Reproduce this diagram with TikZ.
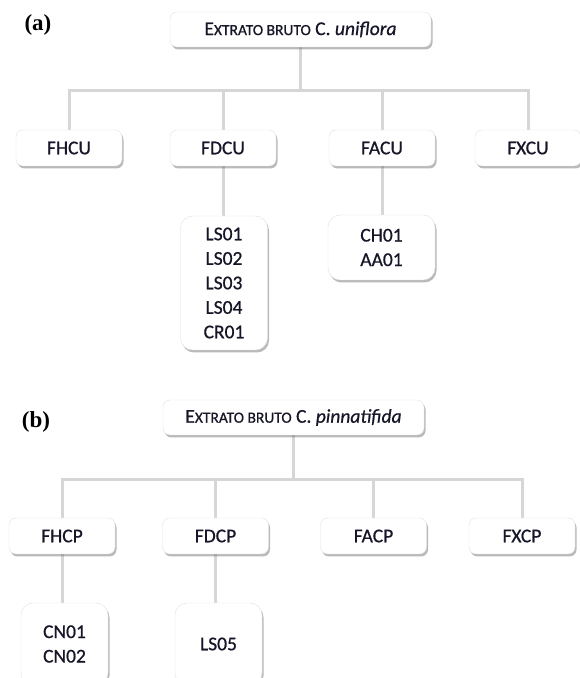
\documentclass[tikz,border=0pt]{standalone}
\usepackage{fontspec}
\setmainfont{Carlito}[FakeBold=0.7]
\newfontfamily\panelfont{Liberation Serif}
\usepackage{tikz}
\usetikzlibrary{shadows}
\usetikzlibrary{backgrounds}

\definecolor{txt}{RGB}{22,22,40}
\definecolor{link}{RGB}{214,214,214}
\definecolor{boxline}{RGB}{224,224,224}

\newcommand{\smcaps}[1]{{\fontsize{15.5}{15.5}\selectfont #1}}

\begin{document}
\begin{tikzpicture}
 [x=1pt,y=1pt,
  font=\fontsize{19.5}{24.5}\selectfont,
  frac/.style={rectangle,rounded corners=7pt,draw=boxline,fill=white,text=txt,
               inner sep=0pt,minimum width=106pt,minimum height=36pt,
               drop shadow={shadow xshift=1.5pt,shadow yshift=-2.5pt,opacity=0.45,fill=black!60}},
  crude/.style={frac,minimum width=261pt,minimum height=35pt,font=\fontsize{19.5}{22}\selectfont},
  sub/.style={frac,rounded corners=12pt,minimum width=87pt,align=center},
  tree/.style={draw=link,line width=3pt},
  panel/.style={font=\panelfont\bfseries\fontsize{23}{26}\selectfont}]
 \useasboundingbox (0,0) rectangle (580,678);

 % (a) C. uniflora
 \node[panel] (laba) at (38,653) {(a)};
 \node[crude] (topa) at (300.5,648.5) {E\smcaps{XTRATO BRUTO} C. \textit{uniflora}};
 \node[frac]  (fhcu) at (69,530)  {FHCU};
 \node[frac]  (fdcu) at (223,530) {FDCU};
 \node[frac]  (facu) at (382,530) {FACU};
 \node[frac]  (fxcu) at (528,530) {FXCU};
 \node[sub, minimum height=134pt] (lsa) at (224,395)   {LS01\\LS02\\LS03\\LS04\\CR01};
 \node[sub, minimum width=107pt, minimum height=65pt] (cha) at (381.5,430.5) {CH01\\AA01};

 % (b) C. pinnatifida
 \node[panel] (labb) at (36,256) {(b)};
 \node[crude] (topb) at (293.5,260.5) {E\smcaps{XTRATO BRUTO} C. \textit{pinnatifida}};
 \node[frac]  (fhcp) at (62,142)    {FHCP};
 \node[frac]  (fdcp) at (215.5,142) {FDCP};
 \node[frac]  (facp) at (373.5,142) {FACP};
 \node[frac]  (fxcp) at (522,142)   {FXCP};
 \node[sub, minimum height=82pt] (cnb) at (64.5,34)  {CN01\\CN02};
 \node[sub, minimum height=82pt] (lsb) at (218.5,34) {LS05};

 \begin{scope}[on background layer]
  \coordinate (bara) at (300,587);
  \coordinate (barb) at (292,198);
  \draw[tree] (topa.south) -- (topa.south |- bara);
  \foreach \n in {fhcu,fdcu,facu,fxcu}
    \draw[tree] (topa.south |- bara) -| (\n.north);
  \draw[tree] (fdcu.south) -- (fdcu.south |- lsa.north);
  \draw[tree] (facu.south) -- (facu.south |- cha.north);

  \draw[tree] (topb.south) -- (topb.south |- barb);
  \foreach \n in {fhcp,fdcp,facp,fxcp}
    \draw[tree] (topb.south |- barb) -| (\n.north);
  \draw[tree] (fhcp.south) -- (fhcp.south |- cnb.north);
  \draw[tree] (fdcp.south) -- (fdcp.south |- lsb.north);
 \end{scope}
\end{tikzpicture}
\end{document}
